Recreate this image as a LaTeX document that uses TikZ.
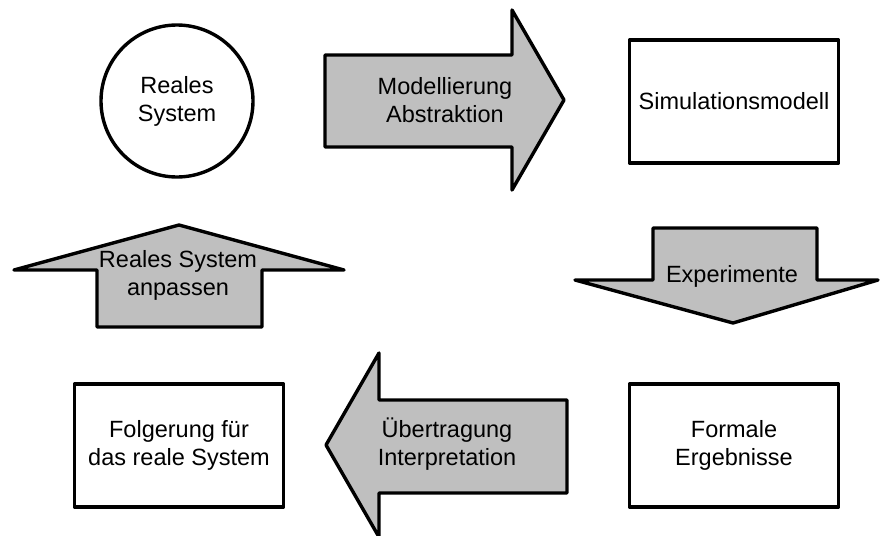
\documentclass[tikz,border=0pt]{standalone}
\usepackage{fontspec}
\setmainfont{Liberation Sans}
\begin{document}
\begin{tikzpicture}[x=1pt,y=-1pt,
  outline/.style={draw=black,line width=3.4pt,line join=round},
  blockarrow/.style={outline,fill=black!25},
  boxnode/.style={outline,fill=white,minimum width=209pt,minimum height=123pt,inner sep=0pt},
  lbl/.style={font=\fontsize{23.5}{28}\selectfont,align=center,inner sep=0pt}]
\useasboundingbox (0,0) rectangle (882,535);

% process steps
\node[outline,circle,minimum size=152pt,inner sep=0pt,lbl] (real) at (177,101) {Reales\\System};
\node[boxnode,lbl] (sim) at (734,101.5) {Simulationsmodell};
\node[boxnode,lbl] (res) at (734,445.5) {Formale\\Ergebnisse};
\node[boxnode,lbl] (concl) at (179,445.5) {Folgerung für\\das reale System};

% block arrows between the steps
\draw[blockarrow] (325,55) -- (512,55) -- (512,10) -- (564,100) -- (512,190) -- (512,147) -- (325,147) -- cycle;
\node[lbl] (model) at (445,100) {Modellierung\\Abstraktion};

\draw[blockarrow] (653,228) -- (817,228) -- (817,280) -- (878,280) -- (733,323) -- (575,280) -- (653,280) -- cycle;
\node[lbl] (exp) at (732,276) {Experimente};

\draw[blockarrow] (567,400) -- (567,493) -- (379,493) -- (379,537) -- (326,445) -- (379,353) -- (379,400) -- cycle;
\node[lbl] (transfer) at (447,444) {Übertragung\\Interpretation};

\draw[blockarrow] (97,327) -- (97,270) -- (14,270) -- (179,225) -- (344,270) -- (262,270) -- (262,327) -- cycle;
\node[lbl] (adapt) at (178,275) {Reales System\\anpassen};
\end{tikzpicture}
\end{document}
